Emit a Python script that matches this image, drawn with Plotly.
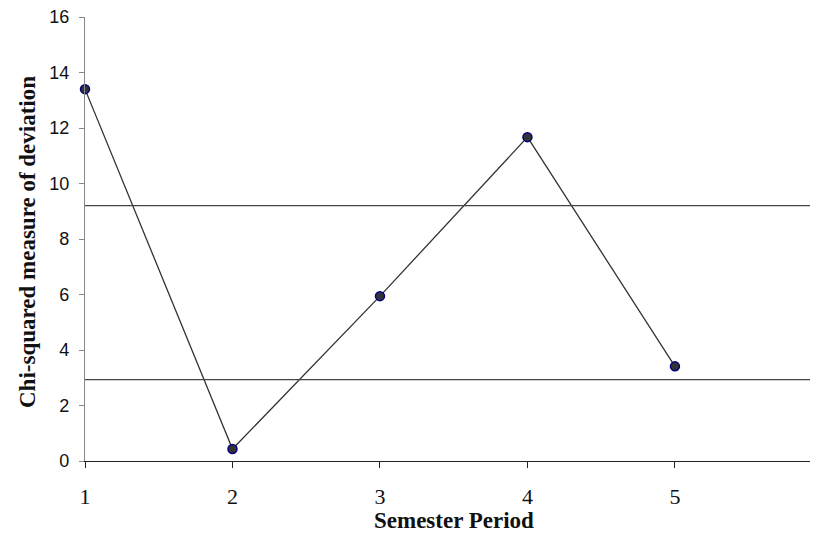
import plotly.graph_objects as go

periods = [1, 2, 3, 4, 5]
chi_sq = [13.4, 0.43, 5.94, 11.67, 3.41]
thresholds = [9.2, 2.93]
x_ticks = [1, 2, 3, 4, 5]
y_ticks = [0, 2, 4, 6, 8, 10, 12, 14, 16]

fig = go.Figure()
fig.add_trace(go.Scatter(
    x=periods, y=chi_sq, mode="lines+markers",
    line=dict(color="#333333", width=1.3),
    marker=dict(size=9, color="#333333", line=dict(color="#000080", width=1.5)),
    cliponaxis=False, showlegend=False,
))
for t in thresholds:
    fig.add_hline(y=t, line=dict(color="#444444", width=1.3))

fig.update_layout(
    width=810, height=525,
    margin=dict(l=77, r=0, t=9, b=72),
    plot_bgcolor="white", paper_bgcolor="white",
    showlegend=False,
)
fig.update_xaxes(
    range=[1, 5.97], tickvals=x_ticks, ticktext=[str(v) for v in x_ticks],
    showgrid=False, zeroline=False, showline=True, linecolor="#222222", linewidth=1.2,
    ticks="outside", ticklen=6, tickcolor="#222222",
    tickfont=dict(family="Liberation Serif", size=22, color="#111111"),
    ticklabelstandoff=9, ticklabeloverflow="allow",
)
fig.update_yaxes(
    range=[0, 16], tickvals=y_ticks,
    showgrid=False, zeroline=False, showline=True, linecolor="#888888", linewidth=1.2,
    ticks="outside", ticklen=5, tickcolor="#888888",
    tickfont=dict(family="Liberation Sans", size=18, color="#111111"),
    ticklabelstandoff=6, ticklabeloverflow="allow",
)
fig.add_annotation(
    text="<b>Semester Period</b>", xref="paper", yref="paper",
    x=(454 - 85) / 733, y=(461 - 520) / 444, xanchor="center", yanchor="middle",
    showarrow=False, font=dict(family="Liberation Serif", size=23, color="#111111"),
)
fig.add_annotation(
    text="<b>Chi-squared measure of deviation</b>", xref="paper", yref="paper",
    x=(27 - 85) / 733, y=(461 - 242) / 444, xanchor="center", yanchor="middle",
    textangle=-90, showarrow=False,
    font=dict(family="Liberation Serif", size=23, color="#111111"),
)
fig.write_html("out.html")
